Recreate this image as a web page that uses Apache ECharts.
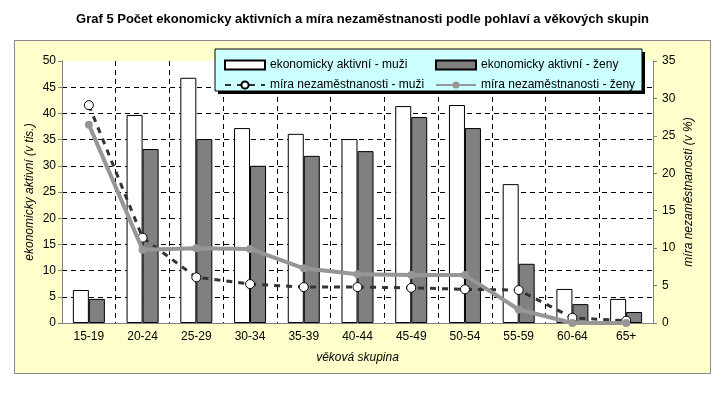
<!DOCTYPE html>
<html><head><meta charset="utf-8">
<script src="https://cdn.jsdelivr.net/npm/echarts@6/dist/echarts.min.js"></script>
<style>
html,body{margin:0;padding:0;background:#fff;}
#bg{position:absolute;left:14px;top:40px;width:695px;height:332px;background:#FFFFCC;border:1px solid #8a8a8a;}
#chart{position:absolute;left:0;top:0;width:725px;height:409px;}
</style></head>
<body>
<div id="bg"></div>
<div id="chart"></div>
<script>
const categories = ['15-19','20-24','25-29','30-34','35-39','40-44','45-49','50-54','55-59','60-64','65+'];
const activeMen = [6.3, 39.7, 46.8, 37.2, 36.1, 35.1, 41.4, 41.6, 26.5, 6.5, 4.6];
const activeWomen = [4.6, 33.2, 35.1, 30.0, 31.9, 32.8, 39.3, 37.2, 11.3, 3.6, 2.1];
const unempMen = [29.1, 11.4, 6.1, 5.2, 4.8, 4.8, 4.7, 4.5, 4.4, 0.7, 0.3];
const unempWomen = [26.5, 9.8, 10.0, 9.9, 7.3, 6.5, 6.4, 6.4, 1.8, 0.0, 0.0];
const names = ['ekonomicky aktivní - muži','ekonomicky aktivní - ženy','míra nezaměstnanosti - muži','míra nezaměstnanosti - ženy'];

const FONT = 'Liberation Sans, Arial, sans-serif';
const chart = echarts.init(document.getElementById('chart'), null, {renderer:'canvas'});
const legendText = {fontFamily:FONT, fontSize:12, color:'#000'};
chart.setOption({
  animation:false,
  textStyle:{fontFamily:FONT},
  title:{text:'Graf 5 Počet ekonomicky aktivních a míra nezaměstnanosti podle pohlaví a věkových skupin',
    left:'center', top:8, textStyle:{fontFamily:FONT, fontSize:13, fontWeight:'bold', color:'#000'}},
  graphic:[
    {type:'rect', z:100, shape:{x:218, y:52, width:427, height:42}, style:{fill:'#000'}},
    {type:'rect', z:101, shape:{x:215, y:49, width:427, height:42}, style:{fill:'#CCFFFF', stroke:'#000', lineWidth:1}}
  ],
  legend:[
    {data:[{name:names[0], icon:'rect'}, {name:names[2]}], orient:'vertical', left:219, top:54, itemWidth:40, itemHeight:9, itemGap:8, z:110, textStyle:legendText},
    {data:[{name:names[1], icon:'rect'}, {name:names[3]}], orient:'vertical', left:430, top:54, itemWidth:40, itemHeight:9, itemGap:8, z:110, textStyle:legendText}
  ],
  grid:{left:62, right:72, top:61, bottom:86, show:true, backgroundColor:'#fff', borderWidth:0},
  xAxis:{type:'category', data:categories,
    name:'věková skupina', nameLocation:'middle', nameGap:29,
    nameTextStyle:{fontFamily:FONT, fontSize:12, fontStyle:'italic', color:'#000'},
    axisLine:{lineStyle:{color:'#808080', width:1}},
    axisTick:{show:false},
    axisLabel:{color:'#000', fontFamily:FONT, fontSize:12, margin:8},
    splitLine:{show:true, showMinLine:false, showMaxLine:false, lineStyle:{color:'#000', type:[5,4], width:1}}
  },
  yAxis:[
    {type:'value', min:0, max:50, interval:5, position:'left',
      name:'ekonomicky aktivní (v tis.)', nameLocation:'middle', nameGap:26, nameRotate:90, nameMoveOverlap:false,
      nameTextStyle:{fontFamily:FONT, fontSize:12, fontStyle:'italic', color:'#000'},
      axisLine:{show:true, lineStyle:{color:'#808080'}},
      axisTick:{show:true, length:4, lineStyle:{color:'#808080'}},
      axisLabel:{color:'#000', fontFamily:FONT, fontSize:12, margin:6},
      splitLine:{show:true, showMinLine:false, showMaxLine:false, lineStyle:{color:'#000', type:[5,4], width:1}}
    },
    {type:'value', min:0, max:35, interval:5, position:'right',
      name:'míra nezaměstnanosti (v %)', nameLocation:'middle', nameGap:30, nameRotate:90, nameMoveOverlap:false,
      nameTextStyle:{fontFamily:FONT, fontSize:12, fontStyle:'italic', color:'#000'},
      axisLine:{show:true, lineStyle:{color:'#808080'}},
      axisTick:{show:true, length:4, lineStyle:{color:'#808080'}},
      axisLabel:{color:'#000', fontFamily:FONT, fontSize:12, margin:9},
      splitLine:{show:false}
    }
  ],
  series:[
    {name:names[0], type:'bar', data:activeMen, barWidth:16, barGap:'0%', yAxisIndex:0,
      itemStyle:{color:'#fff', borderColor:'#000', borderWidth:1}},
    {name:names[1], type:'bar', data:activeWomen, barWidth:16, barGap:'0%', yAxisIndex:0,
      itemStyle:{color:'#808080', borderColor:'#000', borderWidth:1}},
    {name:names[2], type:'line', data:unempMen, yAxisIndex:1, z:3,
      symbol:'circle', symbolSize:9,
      lineStyle:{color:'#333', width:3, type:[6,6]},
      itemStyle:{color:'#fff', borderColor:'#000', borderWidth:1}},
    {name:names[3], type:'line', data:unempWomen, yAxisIndex:1, z:4,
      symbol:'circle', symbolSize:8,
      lineStyle:{color:'#969696', width:4},
      itemStyle:{color:'#969696', borderColor:'#969696', borderWidth:0}}
  ]
});
</script>
</body></html>
